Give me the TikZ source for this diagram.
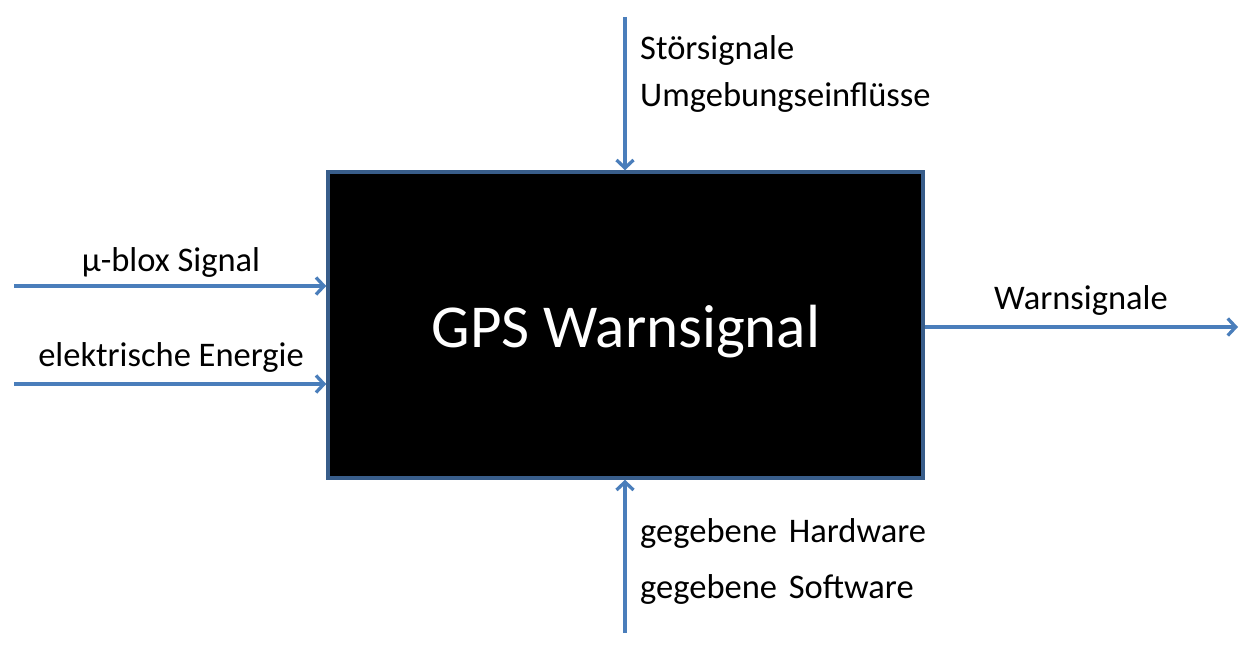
\documentclass[tikz,border=0pt]{standalone}
\usepackage{fontspec}
\setmainfont{Carlito}
\usetikzlibrary{arrows.meta}
\definecolor{arrowblue}{HTML}{4A7EBB}
\definecolor{boxblue}{HTML}{385D8A}
\begin{document}
\begin{tikzpicture}[x=1pt,y=-1pt,
  flow/.style={draw=arrowblue,line width=3.3pt,-{Straight Barb[length=8pt,width=17pt,line width=3.3pt]}},
  lbl/.style={inner sep=0pt,font=\fontsize{34.5}{40}\selectfont},
  blackbox/.style={draw=boxblue,line width=3.5pt,fill=black,text=white,
    minimum width=595pt,minimum height=306pt,inner sep=0pt,
    font=\fontsize{61}{72}\selectfont}]
\useasboundingbox (0,0) rectangle (1254,650);
\node[blackbox] (box) at (625.5,325) {};
\node[inner sep=0pt,text=white,font=\fontsize{61}{72}\selectfont,anchor=base] (title) at (626,347) {GPS Warnsignal};
% free ends
\coordinate (inA) at (14,286);
\coordinate (inB) at (14,384);
\coordinate (inTop) at (625,17);
\coordinate (inBot) at (625,633);
\coordinate (outR) at (1238,327);
% connectors
\draw[flow] (inA) -- (box.west |- inA);
\draw[flow] (inB) -- (box.west |- inB);
\draw[flow] (inTop) -- (box.north -| inTop);
\draw[flow] (inBot) -- (box.south -| inBot);
\draw[flow] (box.east |- outR) -- (outR);
% labels
\node[lbl,anchor=base] (lA) at (171,271) {µ-blox Signal};
\node[lbl,anchor=base] (lB) at (171,366) {elektrische Energie};
\node[lbl,anchor=base west] (lT1) at (640,60) {Störsignale};
\node[lbl,anchor=base west] (lT2) at (640,107) {Umgebungseinflüsse};
\node[lbl,anchor=base west] (lB1) at (640,542) {gegebene\kern4pt\ Hardware};
\node[lbl,anchor=base west] (lB2) at (640,598) {gegebene\kern4pt\ Software};
\node[lbl,anchor=base] (lR) at (1081,309) {Warnsignale};
\end{tikzpicture}
\end{document}
